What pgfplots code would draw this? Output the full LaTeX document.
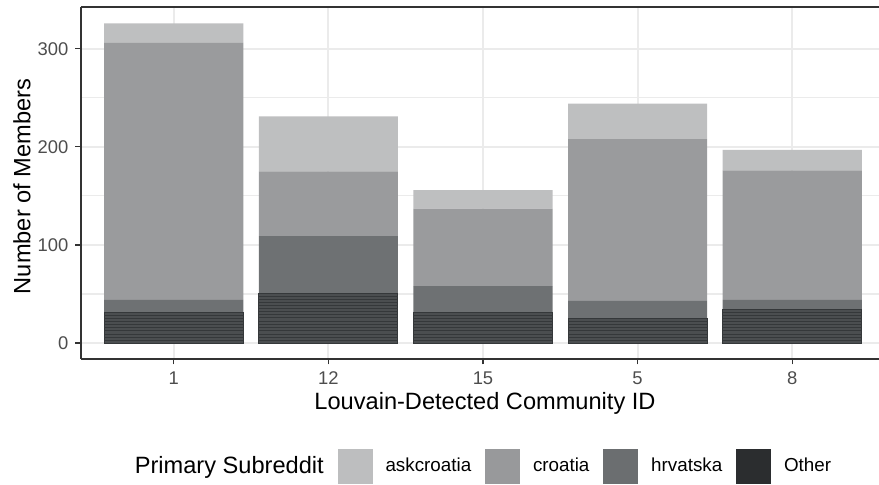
\documentclass[border=0pt]{standalone}
\usepackage{pgfplots}
\usepackage{pgfplotstable}
\usepackage{fontspec}
\setmainfont{Liberation Sans}
\pgfplotsset{compat=1.18}

\definecolor{askcol}{HTML}{BEBFC0}
\definecolor{crocol}{HTML}{9A9B9D}
\definecolor{hrvcol}{HTML}{6E7173}
\definecolor{othcol}{HTML}{4B4E50}
\definecolor{othline}{HTML}{35383A}
\definecolor{askleg}{HTML}{BDBEBF}
\definecolor{croleg}{HTML}{98999B}
\definecolor{hrvleg}{HTML}{6B6E70}
\definecolor{othleg}{HTML}{2B2D2F}
\definecolor{gridcol}{HTML}{EBEBEB}
\definecolor{framecol}{HTML}{333333}
\definecolor{tickcol}{HTML}{4D4D4D}

% bar position, members per subreddit (main three)
\pgfplotstableread{
x hrv cro ask
1 13 262 20
2 59 66 56
3 27 79 19
4 18 165 36
5 10 132 21
}\maintab

% small subreddits lumped as Other, one column per stacked piece
\pgfplotstableread{
x o1 o2 o3 o4 o5 o6 o7 o8 o9 o10 o11 o12 o13 o14 o15 o16
1 3 3 3 4 3 3 3 3 3 3 0 0 0 0 0 0
2 3 3 3 4 3 3 3 4 3 3 3 3 3 3 3 3
3 3 3 3 4 3 3 3 3 3 3 0 0 0 0 0 0
4 3 3 3 4 3 3 3 3 0 0 0 0 0 0 0 0
5 3 3 3 4 3 3 3 3 3 3 3 0 0 0 0 0
}\othtab

\begin{document}
\begin{tikzpicture}
\begin{axis}[
    at={(40.5pt,63pt)}, anchor=south west,
    scale only axis,
    width=402pt, height=176pt,
    ybar stacked,
    bar width=0.9,
    xmin=0.4, xmax=5.6,
    ymin=-16.3, ymax=342.6,
    xtick={1,2,3,4,5},
    xticklabels={1,12,15,5,8},
    ytick={0,100,200,300},
    minor ytick={50,150,250},
    grid=both,
    major grid style={gridcol, line width=1pt},
    minor grid style={gridcol, line width=0.6pt},
    minor tick length=0pt,
    axis lines*=left,
    tick align=outside,
    major tick length=2.75pt,
    tick style={framecol, line width=0.6pt},
    axis line style={framecol, line width=0.6pt, -},
    ticklabel style={font=\fontsize{9.2}{11}\selectfont, text=tickcol},
    /pgf/number format/assume math mode=true,
    xlabel={Louvain-Detected Community ID},
    ylabel={Number of Members},
    label style={font=\fontsize{11.8}{14}\selectfont},
    xlabel style={at={(axis description cs:0.5025,-0.125)}, anchor=center},
    ylabel style={at={(axis description cs:-0.0734,0.49)}, anchor=center},
    legend columns=5,
    legend style={at={(axis description cs:0.5,-0.304)}, anchor=center,
        draw=none, fill=none, inner sep=0pt,
        font=\fontsize{9.4}{11}\selectfont,
        nodes={inner sep=0pt, anchor=west},
        /tikz/every odd column/.append style={column sep=6.5pt},
        /tikz/every even column/.append style={column sep=7pt}},
]
\pgfplotsinvokeforeach{1,...,16}{
  \addplot[forget plot, fill=othcol, draw=othline, line width=0.5pt]
    table[x=x, y=o#1]{\othtab};
}
\addplot[forget plot, fill=hrvcol, draw=none] table[x=x, y=hrv]{\maintab};
\addplot[forget plot, fill=crocol, draw=none] table[x=x, y=cro]{\maintab};
\addplot[forget plot, fill=askcol, draw=none] table[x=x, y=ask]{\maintab};

% top edge of the panel border (the right edge falls outside the picture)
\draw[framecol, line width=0.6pt] (axis description cs:0,1) -- (axis description cs:1,1);

\addlegendimage{empty legend}
\addlegendentry{\hspace*{-6.5pt}\fontsize{11.8}{14}\selectfont Primary Subreddit}
\addlegendimage{legend image code/.code={\fill[askleg] (0pt,-8.5pt) rectangle (17pt,8.5pt);}}
\addlegendentry{askcroatia}
\addlegendimage{legend image code/.code={\fill[croleg] (0pt,-8.5pt) rectangle (17pt,8.5pt);}}
\addlegendentry{croatia}
\addlegendimage{legend image code/.code={\fill[hrvleg] (0pt,-8.5pt) rectangle (17pt,8.5pt);}}
\addlegendentry{hrvatska}
\addlegendimage{legend image code/.code={\fill[othleg] (0pt,-8.5pt) rectangle (17pt,8.5pt);}}
\addlegendentry{Other}
\end{axis}
\pgfresetboundingbox
\path[use as bounding box] (0,0) rectangle (439.5pt,242.5pt);
\end{tikzpicture}
\end{document}
